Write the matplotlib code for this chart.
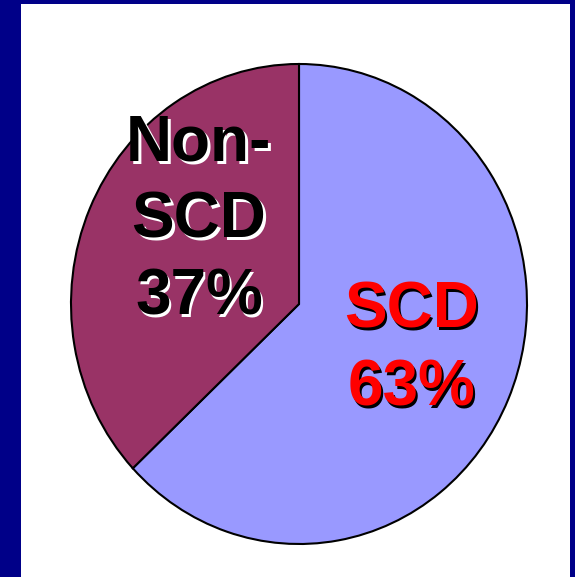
import matplotlib
matplotlib.use("Agg")
import matplotlib.pyplot as plt
from matplotlib.patches import Rectangle
from matplotlib.transforms import offset_copy

labels = ["SCD\n63%", "Non-\nSCD\n37%"]
values = [63, 37]
colors = ["#9999FF", "#993366"]
text_colors = ["#FF0000", "#000000"]
shadow_colors = ["#000000", "#FFFFFF"]
label_pos = [(0.493, -0.190), (-0.439, 0.347)]
line_spacing = [1.38, 1.36]

W, H = 575, 577
fig = plt.figure(figsize=(W / 100, H / 100), dpi=100, facecolor="#000088")

# white slide panel
panel = Rectangle((21 / W, 0), (570 - 21) / W, (H - 4) / H,
                  transform=fig.transFigure, facecolor="white",
                  edgecolor="none", zorder=-5)
fig.add_artist(panel)

ax = fig.add_axes([71 / W, (H - 544) / H, 456 / W, 480 / H])
ax.set_zorder(2)
ax.patch.set_visible(False)
ax.pie(values, colors=colors, startangle=90, counterclock=False,
       wedgeprops=dict(edgecolor="black", linewidth=1.5))
ax.set_aspect("auto")
ax.set_xlim(-1, 1)
ax.set_ylim(-1, 1)
ax.axis("off")

for lab, (x, y), tc, sc, ls in zip(labels, label_pos, text_colors,
                                    shadow_colors, line_spacing):
    kw = dict(ha="center", va="center", fontsize=46, fontweight="bold",
              family="Liberation Sans", linespacing=ls, multialignment="center")
    ax.text(x, y, lab, color=sc,
            transform=offset_copy(ax.transData, fig=fig, x=2.5, y=-2.5, units="dots"), **kw)
    ax.text(x, y, lab, color=tc, **kw)

fig.savefig("out.png", dpi=100, facecolor=fig.get_facecolor())
